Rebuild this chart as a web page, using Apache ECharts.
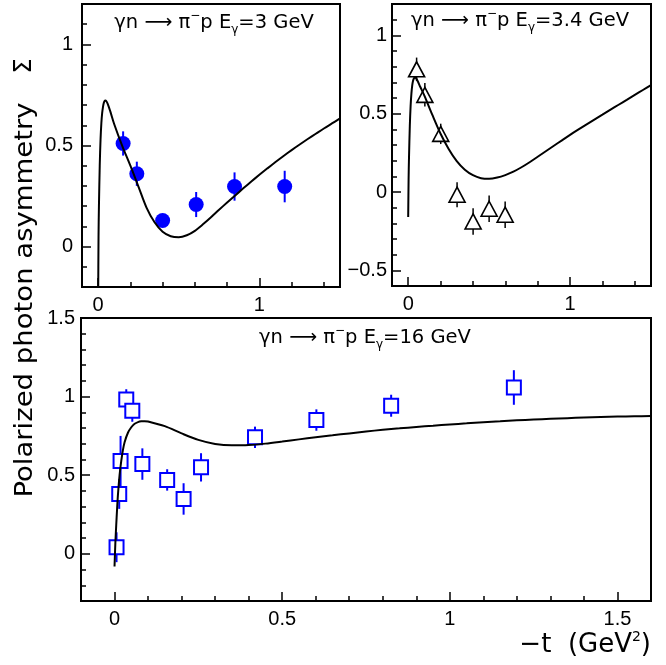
<!DOCTYPE html>
<html>
<head>
<meta charset="utf-8">
<script src="https://cdn.jsdelivr.net/npm/echarts@6/dist/echarts.min.js"></script>
<style>html,body{margin:0;padding:0;background:#fff}#c{width:666px;height:665px}</style>
</head>
<body>
<div id="c"></div>
<script>
// ---- data: E_gamma = 3 GeV (filled circles) ----
const x3 = [0.155, 0.24, 0.40, 0.608, 0.846, 1.157];
const y3 = [0.51, 0.36, 0.129, 0.208, 0.297, 0.297];
const e3 = [0.06, 0.06, 0.03, 0.062, 0.07, 0.078];
const curve3x = [0, 0.0025, 0.005, 0.01, 0.015, 0.02, 0.025, 0.03, 0.035, 0.04, 0.045, 0.05, 0.06, 0.075, 0.1, 0.15, 0.2, 0.25, 0.3, 0.35, 0.4, 0.45, 0.5, 0.55, 0.6, 0.65, 0.7, 0.75, 0.8, 0.85, 0.9, 0.95, 1.0, 1.05, 1.1, 1.15, 1.2, 1.25, 1.3, 1.35, 1.4, 1.45, 1.5];
const curve3y = [-0.3, 0.05, 0.2, 0.4, 0.53, 0.61, 0.66, 0.69, 0.71, 0.72, 0.722, 0.72, 0.705, 0.67, 0.605, 0.497, 0.4, 0.297, 0.193, 0.12, 0.073, 0.051, 0.046, 0.056, 0.078, 0.11, 0.145, 0.182, 0.218, 0.253, 0.288, 0.322, 0.355, 0.387, 0.418, 0.448, 0.477, 0.505, 0.532, 0.558, 0.584, 0.609, 0.634];

// ---- data: E_gamma = 3.4 GeV (open triangles) ----
const x34 = [0.052, 0.103, 0.201, 0.302, 0.401, 0.5, 0.599];
const y34 = [0.783, 0.62, 0.371, -0.017, -0.188, -0.107, -0.145];
const e34 = [0.075, 0.075, 0.065, 0.08, 0.085, 0.085, 0.085];
const curve34x = [0, 0.0025, 0.005, 0.01, 0.015, 0.02, 0.025, 0.03, 0.035, 0.04, 0.045, 0.05, 0.06, 0.075, 0.1, 0.15, 0.2, 0.25, 0.3, 0.35, 0.4, 0.45, 0.5, 0.55, 0.6, 0.65, 0.7, 0.75, 0.8, 0.85, 0.9, 0.95, 1.0, 1.05, 1.1, 1.15, 1.2, 1.25, 1.3, 1.35, 1.4, 1.45, 1.5];
const curve34y = [-0.16, 0.08, 0.22, 0.42, 0.55, 0.63, 0.68, 0.71, 0.725, 0.73, 0.73, 0.725, 0.705, 0.67, 0.615, 0.49, 0.372, 0.275, 0.197, 0.142, 0.107, 0.088, 0.084, 0.092, 0.108, 0.13, 0.158, 0.19, 0.225, 0.26, 0.295, 0.33, 0.365, 0.398, 0.43, 0.462, 0.494, 0.526, 0.557, 0.588, 0.62, 0.651, 0.682];

// ---- data: E_gamma = 16 GeV (open squares) ----
const x16 = [0.006, 0.014, 0.018, 0.035, 0.053, 0.083, 0.157, 0.206, 0.258, 0.419, 0.602, 0.825, 1.191];
const y16 = [0.042, 0.381, 0.59, 0.982, 0.91, 0.571, 0.47, 0.349, 0.55, 0.741, 0.851, 0.942, 1.058];
const e16 = [0.095, 0.095, 0.16, 0.065, 0.07, 0.1, 0.068, 0.1, 0.09, 0.068, 0.068, 0.07, 0.11];
const curve16x = [0, 0.0025, 0.005, 0.0075, 0.01, 0.015, 0.02, 0.025, 0.03, 0.04, 0.05, 0.06, 0.07, 0.08, 0.09, 0.1, 0.15, 0.2, 0.25, 0.3, 0.35, 0.4, 0.45, 0.5, 0.55, 0.6, 0.65, 0.7, 0.75, 0.8, 0.85, 0.9, 0.95, 1.0, 1.05, 1.1, 1.15, 1.2, 1.25, 1.3, 1.35, 1.4, 1.45, 1.5, 1.55, 1.6];
const curve16y = [-0.08, 0.07, 0.18, 0.28, 0.37, 0.5, 0.59, 0.66, 0.71, 0.77, 0.805, 0.827, 0.838, 0.843, 0.844, 0.842, 0.812, 0.766, 0.725, 0.699, 0.69, 0.692, 0.701, 0.714, 0.728, 0.742, 0.754, 0.766, 0.778, 0.789, 0.798, 0.807, 0.815, 0.823, 0.83, 0.837, 0.843, 0.849, 0.854, 0.859, 0.863, 0.867, 0.87, 0.873, 0.875, 0.877];

// ---- tick labels ----
const xLabelsTop = [0, 1];
const xLabelsBottom = [0, 0.5, 1, 1.5];
const yLabels3 = [0, 0.5, 1];
const yLabels34 = [-0.5, 0, 0.5, 1];
const yLabels16 = [0, 0.5, 1, 1.5];

function steps(a, b, s) { const r = []; for (let v = a; v <= b + 1e-9; v += s) r.push(Math.round(v * 1000) / 1000); return r; }
const zip = (xs, ys) => xs.map((x, i) => [x, ys[i]]);
const errData = (xs, ys, es) => xs.map((x, i) => [x, ys[i] - es[i], ys[i] + es[i]]);

const FONT = 'Liberation Sans, Arial, sans-serif';
const TFONT = 'DejaVu Sans, sans-serif';
const LBL = 20;
const fmt = v => String(v).replace('-', '\u2212');

function majorX(grid, min, max, labels) {
  return { type: 'value', gridIndex: grid, min, max, position: 'bottom',
    axisLine: { show: false, onZero: false }, splitLine: { show: false },
    axisTick: { show: true, inside: true, length: 9, customValues: labels, lineStyle: { color: '#000', width: 1.5 } },
    axisLabel: { customValues: labels, formatter: fmt, color: '#000', fontSize: LBL, fontFamily: FONT, margin: 8 } };
}
function minorX(grid, min, max, ticks) {
  return { type: 'value', gridIndex: grid, min, max, position: 'bottom',
    axisLine: { show: false, onZero: false }, splitLine: { show: false }, axisLabel: { show: false },
    axisTick: { show: true, inside: true, length: 5, customValues: ticks, lineStyle: { color: '#000', width: 1.5 } } };
}
function majorY(grid, min, max, labels, margin) {
  return { type: 'value', gridIndex: grid, min, max, position: 'left',
    axisLine: { show: false, onZero: false }, splitLine: { show: false },
    axisTick: { show: true, inside: true, length: 9, customValues: labels, lineStyle: { color: '#000', width: 1.5 } },
    axisLabel: { customValues: labels, formatter: fmt, color: '#000', fontSize: LBL, fontFamily: FONT, margin } };
}
function minorY(grid, min, max, ticks) {
  return { type: 'value', gridIndex: grid, min, max, position: 'left',
    axisLine: { show: false, onZero: false }, splitLine: { show: false }, axisLabel: { show: false },
    axisTick: { show: true, inside: true, length: 5, customValues: ticks, lineStyle: { color: '#000', width: 1.5 } } };
}

function errSeries(xi, yi, data, color, w) {
  return { type: 'custom', xAxisIndex: xi, yAxisIndex: yi, z: 2, data, clip: true,
    encode: { x: 0, y: [1, 2] },
    renderItem: (params, api) => {
      const p1 = api.coord([api.value(0), api.value(1)]);
      const p2 = api.coord([api.value(0), api.value(2)]);
      return { type: 'line', shape: { x1: p1[0], y1: p1[1], x2: p2[0], y2: p2[1] }, style: { stroke: color, lineWidth: w } };
    } };
}
function curveSeries(xi, yi, data) {
  return { type: 'line', xAxisIndex: xi, yAxisIndex: yi, z: 5, data, showSymbol: false, symbol: 'none',
    smooth: 0.3, clip: true, lineStyle: { color: '#000', width: 2 } };
}

const gridBase = { show: true, borderColor: '#000', borderWidth: 2, backgroundColor: 'transparent', containLabel: false, outerBoundsMode: 'none' };

function titleRich(e) {
  return '{m|\u03b3n \u27f6 \u03c0}{sup|\u2212}{m|p E}{sub|\u03b3}{m|=' + e + ' GeV}';
}
const rich = {
  m: { fontSize: 19.5, fontFamily: TFONT, fill: '#000', lineHeight: 26 },
  sup: { fontSize: 12, fontFamily: TFONT, fill: '#000', verticalAlign: 'top', lineHeight: 15 },
  sub: { fontSize: 12, fontFamily: TFONT, fill: '#000', verticalAlign: 'bottom', lineHeight: 13 }
};

const option = {
  animation: false,
  backgroundColor: '#fff',
  grid: [
    Object.assign({ left: 82, top: 4, width: 258, height: 283 }, gridBase),
    Object.assign({ left: 392, top: 4, width: 259, height: 282 }, gridBase),
    Object.assign({ left: 81, top: 318, width: 570, height: 283 }, gridBase)
  ],
  xAxis: [
    majorX(0, -0.1, 1.5, xLabelsTop), minorX(0, -0.1, 1.5, steps(0, 1.4, 0.2)),
    majorX(1, -0.1, 1.5, xLabelsTop), minorX(1, -0.1, 1.5, steps(0, 1.4, 0.2)),
    majorX(2, -0.1, 1.6, xLabelsBottom), minorX(2, -0.1, 1.6, steps(0, 1.6, 0.1))
  ],
  yAxis: [
    majorY(0, -0.2, 1.2, yLabels3, 9), minorY(0, -0.2, 1.2, steps(-0.1, 1.1, 0.1)),
    majorY(1, -0.6, 1.2, yLabels34, 5), minorY(1, -0.6, 1.2, steps(-0.5, 1.1, 0.1)),
    majorY(2, -0.3, 1.5, yLabels16, 6), minorY(2, -0.3, 1.5, steps(-0.2, 1.4, 0.1))
  ],
  series: [
    errSeries(0, 0, errData(x3, y3, e3), '#0000ff', 2),
    { type: 'scatter', xAxisIndex: 0, yAxisIndex: 0, z: 3, data: zip(x3, y3), symbol: 'circle', symbolSize: 15,
      itemStyle: { color: '#0000ff', opacity: 1 } },
    curveSeries(0, 0, zip(curve3x, curve3y)),

    errSeries(2, 2, errData(x34, y34, e34), '#000', 1.5),
    { type: 'scatter', xAxisIndex: 2, yAxisIndex: 2, z: 3, data: zip(x34, y34), symbol: 'triangle', symbolSize: [16, 15],
      itemStyle: { color: '#fff', borderColor: '#000', borderWidth: 1.6, opacity: 1 } },
    curveSeries(2, 2, zip(curve34x, curve34y)),

    errSeries(4, 4, errData(x16, y16, e16), '#0000ff', 2),
    { type: 'scatter', xAxisIndex: 4, yAxisIndex: 4, z: 3, data: zip(x16, y16), symbol: 'rect', symbolSize: 14,
      itemStyle: { color: '#fff', borderColor: '#0000ff', borderWidth: 2, opacity: 1 } },
    curveSeries(4, 4, zip(curve16x, curve16y))
  ],
  graphic: [
    { type: 'text', x: 214, y: 23, z: 10, style: { text: titleRich('3'), rich, align: 'center', verticalAlign: 'middle' } },
    { type: 'text', x: 520, y: 21, z: 10, style: { text: titleRich('3.4'), rich, align: 'center', verticalAlign: 'middle' } },
    { type: 'text', x: 365, y: 338, z: 10, style: { text: titleRich('16'), rich, align: 'center', verticalAlign: 'middle' } },
    { type: 'text', x: 25, y: 300, rotation: Math.PI / 2, scaleX: 1.1, z: 10,
      style: { text: 'Polarized photon asymmetry', font: '25px DejaVu Sans', fill: '#000', align: 'center', verticalAlign: 'middle' } },
    { type: 'text', x: 25, y: 66, rotation: Math.PI / 2, z: 10,
      style: { text: '\u03a3', font: '24px DejaVu Sans', fill: '#000', align: 'center', verticalAlign: 'middle' } },
    { type: 'text', x: 651, y: 645, z: 10,
      style: { text: '{m|\u2212t  (GeV}{sup|2}{m|)}', align: 'right', verticalAlign: 'middle',
        rich: { m: { fontSize: 26, fontFamily: TFONT, fill: '#000', lineHeight: 30 },
                sup: { fontSize: 14, fontFamily: TFONT, fill: '#000', verticalAlign: 'top', lineHeight: 18 } } } }
  ]
};

const chart = echarts.init(document.getElementById('c'), null, { renderer: 'canvas' });
chart.setOption(option);
</script>
</body>
</html>
